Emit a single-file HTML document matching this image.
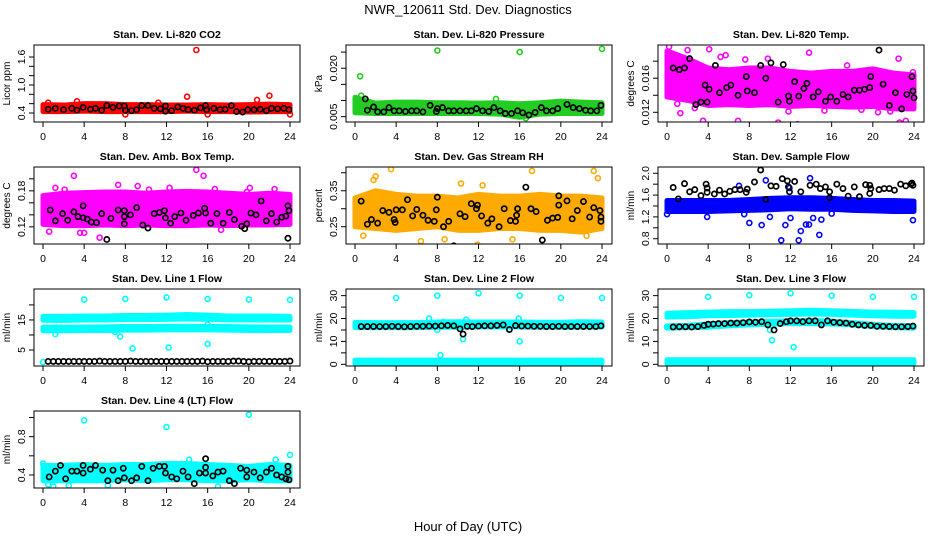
<!DOCTYPE html>
<html><head><meta charset="utf-8"><style>
html,body{margin:0;padding:0;background:#fff;}
svg{display:block;font-family:"Liberation Sans",sans-serif;}
</style></head><body>
<svg id="chart" width="936" height="540" viewBox="0 0 936 540" xmlns="http://www.w3.org/2000/svg">
<rect x="0" y="0" width="936" height="540" fill="#fff"/>
<text x="468" y="14" text-anchor="middle" font-size="13">NWR_120611  Std. Dev. Diagnostics</text>
<text x="468" y="531" text-anchor="middle" font-size="13">Hour of Day (UTC)</text>
</svg>
<script>
// shared band hours
const bandHours = [0,2,4,6,8,10,12,14,16,18,20,22,24];
const xTicks = [0,4,8,12,16,20,24];

// Panel 1: CO2
const co2BandLow  = [0.43,0.43,0.44,0.43,0.43,0.43,0.43,0.44,0.43,0.43,0.42,0.43,0.43];
const co2BandHigh = [0.58,0.57,0.6,0.6,0.58,0.58,0.57,0.57,0.58,0.57,0.58,0.59,0.58];
const co2Outliers = [[14.9,1.75],[14,0.75],[22,0.77],[8,0.37],[16,0.37],[24,0.37],[0.5,0.62],[3.3,0.65],[20.8,0.68],[11.2,0.62]];
const co2Black = [[0.5,0.48],[1.2,0.5],[2,0.47],[2.8,0.5],[3.3,0.46],[3.9,0.52],[4.6,0.48],[5.1,0.5],[5.7,0.46],[6.2,0.56],[6.8,0.52],[7.4,0.55],[7.9,0.55],[8,0.46],[8.6,0.45],[9.1,0.47],[9.6,0.56],[10.2,0.56],[10.8,0.5],[11.4,0.49],[11.9,0.55],[11.9,0.44],[12.5,0.45],[13.1,0.53],[13.6,0.5],[14.1,0.47],[14.7,0.46],[15.3,0.51],[15.8,0.56],[15.9,0.47],[16.6,0.5],[17.2,0.47],[17.7,0.48],[18.3,0.56],[18.8,0.43],[19.4,0.42],[19.9,0.47],[20.5,0.47],[21.1,0.48],[21.7,0.45],[22.2,0.5],[22.8,0.49],[23.4,0.5],[23.9,0.47]];

// Panel 2: Pressure
const presBandLow  = [0.0062,0.006,0.006,0.006,0.006,0.006,0.006,0.0058,0.0048,0.0058,0.006,0.006,0.006];
const presBandHigh = [0.011,0.0092,0.0095,0.0095,0.0093,0.0093,0.0092,0.0093,0.009,0.0093,0.0098,0.0095,0.0093];
const presOutliers = [[0.5,0.0175],[8,0.0255],[16,0.025],[24,0.026],[13.7,0.0105],[0.6,0.0115],[16.6,0.0045]];
const presBlack = [[1,0.0105],[1.2,0.007],[1.8,0.008],[2.2,0.0065],[2.8,0.0065],[3.3,0.0078],[3.8,0.0068],[4.3,0.0068],[4.9,0.0066],[5.5,0.0068],[6,0.0068],[6.6,0.0065],[7.3,0.0085],[7.9,0.0066],[8,0.0075],[8.5,0.0078],[9.1,0.0068],[9.6,0.0068],[10.2,0.0068],[10.8,0.0068],[11.3,0.0068],[11.8,0.0075],[12.4,0.0068],[13,0.0066],[13.5,0.0078],[14.1,0.0068],[14.6,0.006],[15.2,0.006],[15.8,0.0068],[16.3,0.0062],[16.9,0.0055],[17.5,0.0063],[18.1,0.0078],[18.6,0.0068],[19.2,0.0068],[19.7,0.0075],[20.6,0.0088],[21.2,0.0078],[21.8,0.0075],[22.4,0.007],[22.9,0.0068],[23.5,0.0068],[23.9,0.0085]];

// Panel 3: Li-820 Temp
const tempBandLow  = [0.0138,0.0134,0.0128,0.0129,0.0128,0.0129,0.0127,0.0128,0.0127,0.0126,0.0127,0.0124,0.0124];
const tempBandHigh = [0.0192,0.0183,0.0172,0.017,0.0172,0.0172,0.0168,0.0166,0.0168,0.0168,0.0171,0.0166,0.0164];
const tempOutliers = [[0.2,0.0197],[2,0.0193],[4.1,0.0194],[3.5,0.011],[6.9,0.011],[10.8,0.0108],[12.7,0.0106],[22.6,0.0108],[23.2,0.011],[13.8,0.019],[22.5,0.0183],[9.8,0.0183],[1,0.013],[2.7,0.0125],[5.2,0.0185],[17.5,0.0175],[20.5,0.012],[23.9,0.0167],[1.3,0.0119],[5.7,0.0187],[7.6,0.0182],[11.8,0.0121],[15.3,0.0122],[18.9,0.0123],[21.7,0.0121]];
const tempBlack = [[0.6,0.0172],[1.2,0.017],[1.7,0.0172],[2.2,0.0183],[2.8,0.0129],[3.3,0.0132],[3.7,0.0152],[3.9,0.0132],[4.1,0.0147],[4.7,0.0175],[5.1,0.0143],[5.8,0.0149],[6.2,0.0152],[6.9,0.014],[7.7,0.0162],[7.8,0.0145],[8.5,0.0143],[9.1,0.0175],[9.6,0.016],[10.1,0.0178],[10.8,0.0132],[11.3,0.0176],[11.8,0.0139],[11.9,0.0133],[12.4,0.0156],[12.8,0.0139],[13.3,0.0148],[13.6,0.0154],[14.2,0.0138],[14.7,0.0144],[15.4,0.0133],[15.9,0.0138],[16.5,0.0133],[17.1,0.0141],[17.6,0.0138],[18.2,0.0146],[18.7,0.0146],[19.2,0.0147],[19.7,0.0149],[19.8,0.0162],[20.6,0.0193],[21,0.0153],[21.6,0.0128],[22.2,0.0143],[22.8,0.0124],[23.3,0.0141],[23.8,0.0162],[23.9,0.0145],[24,0.0137]];

// Panel 4: Amb Box Temp
const ambBandLow  = [0.124,0.122,0.122,0.123,0.122,0.123,0.122,0.122,0.123,0.122,0.123,0.123,0.124];
const ambBandHigh = [0.172,0.176,0.177,0.178,0.178,0.176,0.178,0.179,0.178,0.176,0.174,0.176,0.174];
const ambOutliers = [[3,0.205],[14.9,0.215],[15.6,0.205],[7.3,0.19],[9.2,0.188],[1.2,0.185],[0.6,0.112],[3.6,0.11],[4,0.11],[5.5,0.102],[17.3,0.115],[12.3,0.185],[19.8,0.178],[22.5,0.183],[2.1,0.182],[10.3,0.182],[16.7,0.183],[20.1,0.185]];
const ambBlack = [[0.7,0.148],[1.2,0.13],[1.9,0.142],[2.4,0.131],[3,0.145],[3.4,0.137],[3.9,0.155],[3.9,0.135],[4.3,0.133],[4.7,0.128],[5.2,0.127],[5.7,0.142],[6.2,0.099],[6.6,0.134],[7.3,0.148],[7.9,0.147],[7.9,0.137],[7.9,0.125],[8.5,0.14],[9.1,0.152],[9.7,0.123],[10.2,0.118],[10.8,0.142],[11.3,0.144],[11.8,0.147],[11.9,0.135],[12.4,0.126],[12.8,0.137],[13.4,0.143],[13.9,0.131],[14.6,0.139],[15.1,0.143],[15.7,0.151],[15.8,0.143],[16.3,0.126],[16.9,0.142],[17.5,0.126],[18.1,0.144],[18.6,0.132],[19.3,0.121],[19.6,0.117],[19.8,0.125],[20.2,0.143],[20.7,0.14],[21.2,0.163],[21.7,0.13],[22.2,0.142],[22.7,0.128],[23.2,0.136],[23.6,0.138],[23.8,0.155],[23.9,0.147],[23.8,0.101]];

// Panel 5: Gas Stream RH
const rhBandLow  = [0.25,0.245,0.24,0.245,0.25,0.24,0.24,0.245,0.245,0.24,0.24,0.235,0.245];
const rhBandHigh = [0.33,0.35,0.34,0.335,0.335,0.33,0.34,0.335,0.335,0.34,0.335,0.335,0.33];
const rhOutliers = [[1.8,0.38],[2,0.39],[3.5,0.41],[17.2,0.405],[23.2,0.405],[23.6,0.385],[11.9,0.2],[6.4,0.21],[15.3,0.215],[0.8,0.225],[10.3,0.37],[12.4,0.365],[8.7,0.215],[22.5,0.225]];
const rhBlack = [[0.6,0.321],[1.2,0.257],[1.6,0.27],[2.2,0.26],[2.7,0.295],[3.3,0.29],[3.8,0.27],[3.9,0.262],[4,0.297],[4.6,0.297],[5.1,0.325],[5.6,0.28],[6,0.298],[6.6,0.282],[7.1,0.268],[7.7,0.265],[7.9,0.297],[8,0.332],[8.6,0.25],[9.1,0.265],[9.6,0.197],[10.2,0.286],[10.7,0.278],[11.3,0.314],[11.8,0.3],[11.9,0.31],[12.3,0.28],[12.9,0.26],[13.3,0.272],[14,0.25],[14.5,0.3],[15.1,0.267],[15.6,0.265],[15.7,0.282],[15.8,0.3],[16.6,0.36],[17.1,0.3],[17.6,0.292],[18.2,0.213],[18.7,0.268],[19.2,0.274],[19.7,0.276],[19.8,0.31],[19.8,0.336],[20.6,0.322],[21.1,0.272],[21.6,0.295],[22.2,0.32],[22.8,0.277],[23.2,0.303],[23.8,0.295],[23.9,0.277],[23.9,0.265]];

// Panel 6: Sample Flow
const sfBandLow  = [1.3,1.3,1.3,1.31,1.32,1.33,1.35,1.34,1.34,1.32,1.31,1.3,1.3];
const sfBandHigh = [1.5,1.5,1.5,1.5,1.52,1.54,1.55,1.55,1.54,1.52,1.5,1.5,1.49];
const sfOutliers = [[0,1.25],[7.5,1.25],[8,1.09],[9.2,1.05],[11.1,0.77],[11.5,1.05],[12.8,0.77],[13,0.94],[13.5,1.06],[13.8,1.06],[14.8,0.87],[15,1.15],[23.9,1.14],[9.6,1.87],[13.9,1.91],[7,1.77],[11.9,1.73],[10,1.2],[12,1.18],[14.2,1.18],[16,1.26],[3.9,1.2]];
const sfBlack = [[0.6,1.74],[1.1,1.53],[1.7,1.81],[2.2,1.66],[2.7,1.7],[3.3,1.59],[3.8,1.8],[3.9,1.73],[3.9,1.65],[4.6,1.62],[5.1,1.69],[5.6,1.62],[6.1,1.67],[6.6,1.7],[7.1,1.7],[7.7,1.65],[7.8,1.71],[8.5,1.84],[9.1,2.06],[9.6,1.52],[10.1,1.77],[10.6,1.76],[11.2,1.9],[11.7,1.86],[11.8,1.75],[11.9,1.66],[12.4,1.85],[13,1.66],[13.9,1.78],[14.5,1.8],[14.9,1.72],[15.4,1.75],[15.8,1.66],[15.8,1.55],[16.5,1.8],[17.1,1.72],[17.6,1.58],[18.2,1.75],[18.7,1.57],[19.3,1.79],[19.7,1.78],[19.8,1.72],[19.7,1.63],[20.6,1.7],[21.1,1.72],[21.6,1.72],[22.1,1.69],[22.7,1.8],[23.2,1.77],[23.7,1.8],[23.8,1.82],[23.9,1.78]];

// Panel 7: Line 1 Flow
const l1BandALow  = [14.9,14.8,15,15,15.1,15.1,15.2,15.3,15.2,15,15,15,15];
const l1BandAHigh = [16.2,16.2,16.3,16.3,16.5,16.5,16.6,16.8,16.6,16.3,16.3,16.3,16.2];
const l1BandBLow  = [11.4,11.4,11.5,11.5,11.6,11.6,11.7,11.7,11.7,11.6,11.5,11.5,11.5];
const l1BandBHigh = [12.6,12.6,12.6,12.7,12.8,12.8,12.9,12.9,12.8,12.8,12.7,12.6,12.6];
const l1Outliers = [[4,21.8],[8,22],[12,22.5],[16,22],[20,21.8],[24,21.7],[8.7,5.5],[12.2,5.8],[16,7],[7.5,9.5],[1.2,10.3],[16,13.5],[7,11],[0,1],[9.6,15.8]];
const l1Black = [[0.5,1.2],[1,1.2],[1.5,1.2],[2,1.2],[2.5,1.2],[3,1.2],[3.5,1.2],[4,1.2],[4.5,1.2],[5,1.2],[5.5,1.3],[6,1.2],[6.5,1.2],[7,1.2],[7.5,1.2],[8,1.2],[8.5,1.3],[9,1.2],[9.5,1.2],[10,1.2],[10.5,1.2],[11,1.2],[11.5,1.2],[12,1.2],[12.5,1.2],[13,1.2],[13.5,1.2],[14,1.2],[14.5,1.2],[15,1.2],[15.5,1.3],[16,1.1],[16.5,1.2],[17,1.2],[17.5,1.2],[18,1.2],[18.5,1.3],[19,1.3],[19.5,1.2],[20,1.1],[20.5,1.2],[21,1.2],[21.5,1.2],[22,1.2],[22.5,1.2],[23,1.2],[23.5,1.2],[24,1.3]];

// Panel 8: Line 2 Flow
const l2BandALow  = [16,16,16,16,16.2,16.2,16.3,16.3,16.3,16.2,16.2,16.3,16.3];
const l2BandAHigh = [18.3,18.2,18.2,18.2,18.5,18.6,18.5,18.5,18.5,18.4,18.4,18.6,18.5];
const l2BandBLow  = [0.4,0.4,0.4,0.4,0.4,0.4,0.4,0.4,0.4,0.4,0.4,0.4,0.4];
const l2BandBHigh = [1.8,1.8,1.8,1.8,1.8,1.8,1.8,1.8,1.8,1.8,1.8,1.8,1.8];
const l2Outliers = [[4,29],[8,30],[12,31],[16,30],[20,29],[24,29],[8.3,4],[16,10],[10.5,11],[8,15],[10.8,19.5],[15.9,20],[7.2,20],[8.6,18.5]];
const l2Black = [[0.6,16.5],[1.2,16.5],[1.8,16.5],[2.4,16.5],[3,16.5],[3.6,16.6],[4.2,16.5],[4.8,16.4],[5.4,16.5],[6,16.6],[6.6,16.6],[7.2,16.7],[7.8,16.7],[8.4,16.8],[9,17],[9.6,16.8],[10.2,15.5],[10.5,13.2],[10.9,16.6],[11.4,16.5],[12,16.7],[12.6,16.8],[13.2,16.8],[13.8,17],[14.4,17.2],[15,15.2],[15.6,16.9],[16.2,16.7],[16.8,16.7],[17.4,16.6],[18,16.6],[18.6,16.5],[19.2,16.5],[19.8,16.6],[20.4,16.5],[21,16.5],[21.6,16.5],[22.2,16.5],[22.8,16.5],[23.4,16.5],[23.9,16.8]];

// Panel 9: Line 3 Flow
const l3BandALow  = [20.6,20.8,21.2,21.3,21.5,21.7,21.8,22,21.8,21.5,21.2,21,21];
const l3BandAHigh = [22.3,22.6,22.8,23,23,23.2,23.4,23.6,23.4,23.1,22.8,22.8,22.6];
const l3BandBLow  = [15.8,16,16.2,16.8,17.2,17.5,17.8,17.8,17.6,17.2,16.5,16,15.8];
const l3BandBHigh = [16.8,17,17.6,18.2,18.5,18.8,19,19.2,18.8,18.2,17.5,17,16.8];
const l3BandCLow  = [0.4,0.4,0.4,0.4,0.4,0.4,0.4,0.4,0.4,0.4,0.4,0.4,0.4];
const l3BandCHigh = [2,2,2,2,2,2,2,2,2,2,2,2,2];
const l3Outliers = [[4,29.5],[8,30.2],[12,31],[16,30],[20,29.5],[24,29.5],[10.2,10.5],[12.3,7.5],[10,15],[0,16.3]];
const l3Black = [[0.6,16.3],[1.2,16.4],[1.8,16.4],[2.4,16.3],[3,16.5],[3.6,17],[4,17.5],[4.5,17.6],[5,17.8],[5.6,17.8],[6.2,18],[6.8,18],[7.4,18.2],[8,18.5],[8.6,18.4],[9.2,18.6],[9.8,17.2],[10.4,15],[11,17.8],[11.6,18.6],[12,19],[12.6,19],[13.2,18.6],[13.8,19],[14.4,19],[15,17.2],[15.6,19],[16.2,18.4],[16.8,18.2],[17.4,18],[18,17.5],[18.6,17.2],[19.2,17],[19.8,17],[20.4,16.6],[21,16.6],[21.6,16.5],[22.2,16.4],[22.8,16.4],[23.4,16.5],[23.9,16.7]];

// Panel 10: Line 4 (LT) Flow
const l4BandLow  = [0.34,0.34,0.34,0.34,0.35,0.34,0.35,0.35,0.34,0.34,0.35,0.34,0.34];
const l4BandHigh = [0.5,0.5,0.51,0.5,0.51,0.51,0.52,0.52,0.51,0.5,0.49,0.51,0.5];
const l4Outliers = [[4,0.97],[12,0.9],[20,1.03],[24,0.61],[0,0.52],[0.5,0.3],[1,0.28],[17,0.28],[14.2,0.56],[22.6,0.56],[2.5,0.29],[6.3,0.29]];
const l4Black = [[0.6,0.38],[1.2,0.44],[1.7,0.5],[2.2,0.36],[2.8,0.44],[3.3,0.44],[3.9,0.5],[3.9,0.42],[4.6,0.46],[5.1,0.5],[5.8,0.45],[6.3,0.34],[6.8,0.45],[7.3,0.34],[7.8,0.47],[7.9,0.37],[8.6,0.34],[9.1,0.37],[9.6,0.49],[10.2,0.34],[10.7,0.47],[11.3,0.49],[11.8,0.49],[11.9,0.42],[12.5,0.38],[13,0.36],[13.6,0.44],[14.1,0.38],[14.7,0.31],[15.2,0.42],[15.8,0.57],[15.8,0.48],[15.8,0.42],[16.5,0.39],[17,0.43],[17.5,0.44],[18.1,0.34],[18.6,0.31],[19.2,0.47],[19.8,0.45],[19.8,0.38],[20.5,0.43],[21.1,0.37],[21.7,0.43],[22.2,0.47],[22.7,0.4],[23.2,0.38],[23.6,0.36],[23.8,0.49],[23.8,0.43],[23.9,0.35]];

const panels = [
 {key:'co2',c:0,r:0,title:'Stan. Dev. Li-820 CO2',ylab:'Licor ppm',ymin:0.207,ymax:1.857,ticks:[0.4,0.6,0.8,1.0,1.2,1.4,1.6],labels:['0.4','1.0','1.6'],color:'#ff0000',bands:[[co2BandLow,co2BandHigh]],out:co2Outliers,blk:co2Black},
 {key:'pressure',c:1,r:0,title:'Stan. Dev. Li-820 Pressure',ylab:'kPa',ymin:0.00335,ymax:0.0272,ticks:[0.005,0.010,0.015,0.020,0.025],labels:['0.005','0.020'],color:'#22cc22',bands:[[presBandLow,presBandHigh]],out:presOutliers,blk:presBlack},
 {key:'temp',c:2,r:0,title:'Stan. Dev. Li-820 Temp.',ylab:'degrees C',ymin:0.01086,ymax:0.0199,ticks:[0.012,0.014,0.016,0.018],labels:['0.012','0.016'],color:'#ff00ff',bands:[[tempBandLow,tempBandHigh]],out:tempOutliers,blk:tempBlack},
 {key:'ambbox',c:0,r:1,title:'Stan. Dev. Amb. Box Temp.',ylab:'degrees C',ymin:0.0914,ymax:0.2197,ticks:[0.12,0.14,0.16,0.18,0.20],labels:['0.12','0.18'],color:'#ff00ff',bands:[[ambBandLow,ambBandHigh]],out:ambOutliers,blk:ambBlack},
 {key:'rh',c:1,r:1,title:'Stan. Dev. Gas Stream RH',ylab:'percent',ymin:0.202,ymax:0.416,ticks:[0.25,0.30,0.35,0.40],labels:['0.25','0.35'],color:'#ffaa00',bands:[[rhBandLow,rhBandHigh]],out:rhOutliers,blk:rhBlack},
 {key:'sampleflow',c:2,r:1,title:'Stan. Dev. Sample Flow',ylab:'ml/min',ymin:0.703,ymax:2.115,ticks:[0.8,1.0,1.2,1.4,1.6,1.8,2.0],labels:['0.8','1.2','1.6','2.0'],color:'#0000ff',bands:[[sfBandLow,sfBandHigh]],out:sfOutliers,blk:sfBlack},
 {key:'line1',c:0,r:2,title:'Stan. Dev. Line 1 Flow',ylab:'ml/min',ymin:-0.33,ymax:25.3,ticks:[5,10,15,20],labels:['5','15'],color:'#00ffff',bands:[[l1BandALow,l1BandAHigh],[l1BandBLow,l1BandBHigh]],out:l1Outliers,blk:l1Black},
 {key:'line2',c:1,r:2,title:'Stan. Dev. Line 2 Flow',ylab:'ml/min',ymin:-0.74,ymax:32.9,ticks:[0,5,10,15,20,25,30],labels:['0','10','20','30'],color:'#00ffff',bands:[[l2BandALow,l2BandAHigh],[l2BandBLow,l2BandBHigh]],out:l2Outliers,blk:l2Black},
 {key:'line3',c:2,r:2,title:'Stan. Dev. Line 3 Flow',ylab:'ml/min',ymin:-0.74,ymax:32.9,ticks:[0,5,10,15,20,25,30],labels:['0','10','20','30'],color:'#00ffff',bands:[[l3BandALow,l3BandAHigh],[l3BandBLow,l3BandBHigh],[l3BandCLow,l3BandCHigh]],out:l3Outliers,blk:l3Black},
 {key:'line4',c:0,r:3,title:'Stan. Dev. Line 4 (LT) Flow',ylab:'ml/min',ymin:0.264,ymax:1.068,ticks:[0.4,0.6,0.8,1.0],labels:['0.4','0.8'],color:'#00ffff',bands:[[l4BandLow,l4BandHigh]],out:l4Outliers,blk:l4Black}
];

const NS='http://www.w3.org/2000/svg';
const svg=document.getElementById('chart');
function mk(tag,attrs,parent){const e=document.createElementNS(NS,tag);for(const k in attrs)e.setAttribute(k,attrs[k]);parent.appendChild(e);return e;}

panels.forEach(p=>{
  const L=34+312*p.c, R=300+312*p.c, T=45+122*p.r, B=122+122*p.r;
  const x0=43+312*p.c, x24=290+312*p.c;
  const xs=v=>x0+(x24-x0)*v/24;
  const ys=v=>B-(v-p.ymin)/(p.ymax-p.ymin)*(B-T);
  const g=mk('g',{},svg);
  
  
  const clipId='clip-'+p.key;
  const cp=mk('clipPath',{id:clipId},g);
  mk('rect',{x:L,y:T,width:R-L,height:B-T},cp);
  const data=mk('g',{'clip-path':'url(#'+clipId+')'},g);
  
  
  p.bands.forEach((b,bi)=>{
    const lo=b[0],hi=b[1];
    let pts=[];
    bandHours.forEach((h,i)=>pts.push(xs(h)+','+ys(hi[i])));
    for(let i=bandHours.length-1;i>=0;i--)pts.push(xs(bandHours[i])+','+ys(lo[i]));
    const poly=mk('polygon',{points:pts.join(' '),fill:p.color,stroke:p.color,'stroke-width':5,'stroke-linejoin':'round'},data);
    
    
  });
  p.out.forEach(d=>{
    const c=mk('circle',{cx:xs(d[0]),cy:ys(d[1]),r:2.5,fill:'none',stroke:p.color,'stroke-width':1.6},data);
    
    
  });
  p.blk.forEach(d=>{
    const c=mk('circle',{cx:xs(d[0]),cy:ys(d[1]),r:2.6,fill:'none',stroke:'#000','stroke-width':1.7},data);
    
    
  });
  const box=mk('rect',{x:L,y:T,width:R-L,height:B-T,fill:'none',stroke:'#000','stroke-width':1},g);
  
  
  const t=mk('text',{x:(L+R)/2,y:T-7,'text-anchor':'middle','font-size':10.5,'font-weight':'bold'},g);
  t.textContent=p.title;
  
  
  mk('line',{x1:xs(xTicks[0]),x2:xs(xTicks[xTicks.length-1]),y1:B,y2:B,stroke:'#000'},g);
  xTicks.forEach(v=>{
    mk('line',{x1:xs(v),x2:xs(v),y1:B,y2:B+5,stroke:'#000'},g);
    const tl=mk('text',{x:xs(v),y:B+18,'text-anchor':'middle','font-size':10.5},g);
    tl.textContent=String(v);
    
    
  });
  mk('line',{x1:L,x2:L,y1:ys(p.ticks[0]),y2:ys(p.ticks[p.ticks.length-1]),stroke:'#000'},g);
  p.ticks.forEach(v=>{
    mk('line',{x1:L-5,x2:L,y1:ys(v),y2:ys(v),stroke:'#000'},g);
  });
  p.labels.forEach(s=>{
    const v=parseFloat(s);
    const yl=mk('text',{x:L-9,y:ys(v),'text-anchor':'middle','font-size':10.5,transform:'rotate(-90 '+(L-9)+' '+ys(v)+')'},g);
    yl.textContent=s;
    
    
  });
  const yt=mk('text',{x:L-24,y:(T+B)/2,'text-anchor':'middle','font-size':10,transform:'rotate(-90 '+(L-24)+' '+((T+B)/2)+')'},g);
  yt.textContent=p.ylab;
  
  
});
</script>
</body></html>
